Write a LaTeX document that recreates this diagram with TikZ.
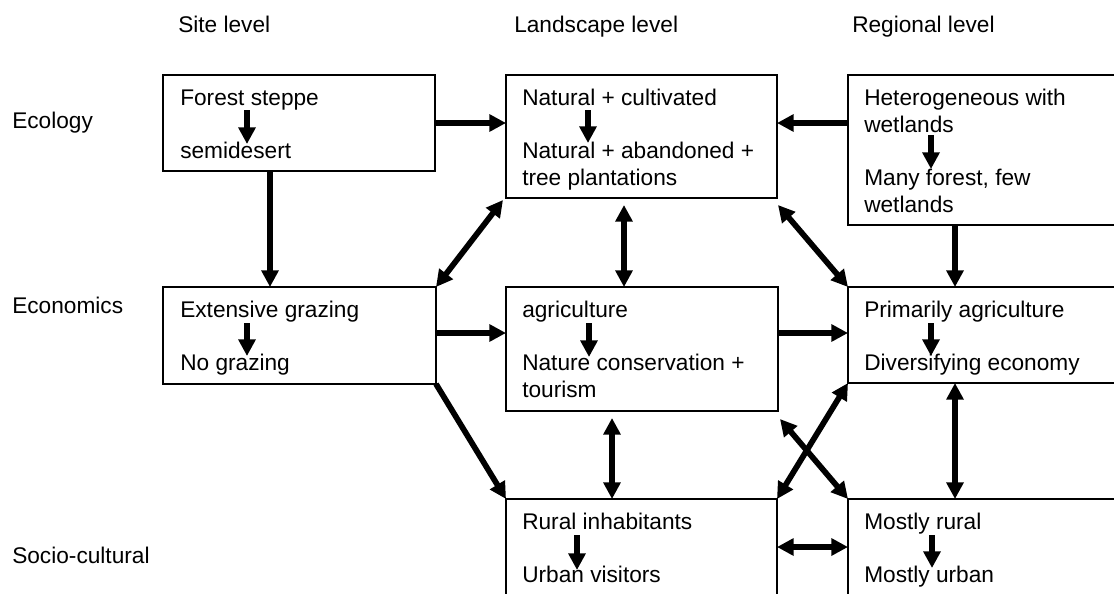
\documentclass[tikz,border=0pt]{standalone}
\usepackage{fontspec}
\setmainfont{Liberation Sans}
\usetikzlibrary{arrows.meta}

\begin{document}
\begin{tikzpicture}[x=0.75pt,y=-0.75pt,
  box/.style={draw, line width=1.1pt, rectangle, anchor=north west,
              inner sep=0pt, outer sep=0pt},
  txt/.style={anchor=base west, inner sep=0pt,
              font=\fontsize{17}{20.25}\selectfont},
  tip/.tip={Triangle[length=12.5pt,width=12.5pt]},
  flow/.style={line width=4.3pt, -tip},
  both/.style={line width=4.3pt, tip-tip},
]
\clip (0,0) rectangle (1114,593);

% column and row headings
\node[txt] (hsite) at (178,32) {Site level};
\node[txt] (hland) at (514,32) {Landscape level};
\node[txt] (hreg)  at (852,32) {Regional level};
\node[txt] (reco)  at (12,128) {Ecology};
\node[txt] (recn)  at (12,313) {Economics};
\node[txt] (rsoc)  at (12,563) {Socio-cultural};

% boxes
\node[box, minimum width=204pt,   minimum height=72pt]   (seco) at (163,75)  {};
\node[box, minimum width=203.25pt,minimum height=92.25pt](leco) at (506,75)  {};
\node[box, minimum width=240pt,   minimum height=112.5pt](geco) at (848,75)  {};
\node[box, minimum width=204.75pt,minimum height=72.75pt](secn) at (163,287) {};
\node[box, minimum width=204pt,   minimum height=93pt]   (lecn) at (506,287) {};
\node[box, minimum width=240pt,   minimum height=72pt]   (gecn) at (848,287) {};
\node[box, minimum width=203.25pt,minimum height=100pt]  (lsoc) at (506,499) {};
\node[box, minimum width=240pt,   minimum height=100pt]  (gsoc) at (848,499) {};

% box texts
\node[txt] (t1a) at (180,105) {Forest steppe};
\node[txt] (t1b) at (180,158) {semidesert};
\node[txt] (t2a) at (522,105) {Natural + cultivated};
\node[txt] (t2b) at (522,158) {Natural + abandoned +};
\node[txt] (t2c) at (522,185) {tree plantations};
\node[txt] (t3a) at (864,105) {Heterogeneous with};
\node[txt] (t3b) at (864,132) {wetlands};
\node[txt] (t3c) at (864,185) {Many forest, few};
\node[txt] (t3d) at (864,212) {wetlands};
\node[txt] (t4a) at (180,317) {Extensive grazing};
\node[txt] (t4b) at (180,370) {No grazing};
\node[txt] (t5a) at (522,317) {agriculture};
\node[txt] (t5b) at (522,370) {Nature conservation +};
\node[txt] (t5c) at (522,397) {tourism};
\node[txt] (t6a) at (864,317) {Primarily agriculture};
\node[txt] (t6b) at (864,370) {Diversifying economy};
\node[txt] (t7a) at (522,529) {Rural inhabitants};
\node[txt] (t7b) at (522,582) {Urban visitors};
\node[txt] (t8a) at (864,529) {Mostly rural};
\node[txt] (t8b) at (864,582) {Mostly urban};

% changes inside each box
\draw[flow] ([shift={(67,5)}]t1a.base west) -- ([shift={(67,39)}]t1a.base west);
\draw[flow] ([shift={(66,5)}]t2a.base west) -- ([shift={(66,38)}]t2a.base west);
\draw[flow] ([shift={(67,3)}]t3b.base west) -- ([shift={(67,37)}]t3b.base west);
\draw[flow] ([shift={(67,6)}]t4a.base west) -- ([shift={(67,39)}]t4a.base west);
\draw[flow] ([shift={(67,6)}]t5a.base west) -- ([shift={(67,40)}]t5a.base west);
\draw[flow] ([shift={(67,6)}]t6a.base west) -- ([shift={(67,39)}]t6a.base west);
\draw[flow] ([shift={(55,6)}]t7a.base west) -- ([shift={(55,41)}]t7a.base west);
\draw[flow] ([shift={(68,6)}]t8a.base west) -- ([shift={(68,39)}]t8a.base west);

% links between boxes
\draw[flow] (seco.east) -- (seco.east -| leco.west);
\draw[flow] (geco.west |- seco.east) -- (leco.east |- seco.east);
\draw[flow] ([shift={(107,0)}]seco.south west) -- ([shift={(107,0)}]secn.north west);
\draw[flow] ([shift={(107,0)}]geco.south west) -- ([shift={(107,0)}]gecn.north west);
\draw[both] (secn.north east) -- ([shift={(-3,2)}]leco.south west);
\draw[both] ([shift={(118,7)}]leco.south west) -- ([shift={(118,0)}]lecn.north west);
\draw[both] ([shift={(1,7)}]leco.south east) -- (gecn.north west);
\draw[flow] ([shift={(0,46)}]secn.north east) -- ([shift={(0,46)}]lecn.north west);
\draw[flow] ([shift={(0,46)}]lecn.north east) -- ([shift={(0,46)}]gecn.north west);
\draw[flow] (secn.south east) -- (lsoc.north west);
\draw[both] ([shift={(106,7)}]lecn.south west) -- ([shift={(106,0)}]lsoc.north west);
\draw[both] (lsoc.north east) -- (gecn.south west);
\draw[both] ([shift={(2,8)}]lecn.south east) -- (gsoc.north west);
\draw[both] ([shift={(107,0)}]gecn.south west) -- ([shift={(107,0)}]gsoc.north west);
\draw[both] ([shift={(0,48)}]lsoc.north east) -- ([shift={(0,48)}]gsoc.north west);
\end{tikzpicture}
\end{document}
